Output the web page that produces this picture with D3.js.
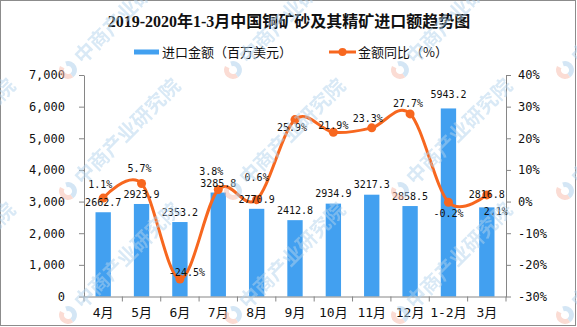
<!DOCTYPE html>
<html>
<head>
<meta charset="utf-8">
<script src="https://cdn.jsdelivr.net/npm/d3@7"></script>
<style>
  body { margin: 0; background: #fff; }
  svg { display: block; }
</style>
</head>
<body>
<svg id="chart" width="577" height="327"></svg>
<script>
// Monthly copper ore & concentrate imports, Apr 2019 – Mar 2020
const months = ["4月", "5月", "6月", "7月", "8月", "9月", "10月", "11月", "12月", "1-2月", "3月"];
const importValue = [2662.7, 2923.9, 2353.2, 3285.8, 2770.9, 2412.8, 2934.9, 3217.3, 2858.5, 5943.2, 2816.8];
const yoyGrowth = [1.1, 5.7, -24.5, 3.8, 0.6, 25.9, 21.9, 23.3, 27.7, -0.2, 2.1];
const valueTicks = [0, 1000, 2000, 3000, 4000, 5000, 6000, 7000];
const growthTicks = [-30, -20, -10, 0, 10, 20, 30, 40];

const titleText = "2019-2020年1-3月中国铜矿砂及其精矿进口额趋势图";
const barLegend = "进口金额（百万美元）";
const lineLegend = "金额同比（%）";
const watermarkText = "中商产业研究院";

// label nudges (dx, dy from the point) so the percentage labels clear the bars/line
const growthLabelNudge = [[-3, -14], [-2, -15.5], [7, -6.5], [-7, -18.5], [0, -22.5], [-3, 8],
                          [0, -7], [-4, -9], [-2, -10.5], [0, 11], [9, 16.5]];
const valueLabelLift = [9.5, 9.5, 9.5, 9.5, 9.5, 9.5, 10, 10.5, 10, 14, 13];

const BLUE = "#42a0f0";
const ORANGE = "#f7671f";
const AXIS = "#868686";
const MONO = "'DejaVu Sans Mono', 'Noto Sans CJK SC', monospace";
const CJK = "'Noto Sans CJK SC', sans-serif";

const svg = d3.select("#chart");
const plot = { left: 84, right: 506, top: 75, bottom: 296.5 };

const x = d3.scaleBand().domain(months).range([plot.left, plot.right]).padding(0);
const cx = m => x(m) + x.bandwidth() / 2;
const yL = d3.scaleLinear().domain([0, 7000]).range([plot.bottom, plot.top]);
const yR = d3.scaleLinear().domain([-30, 40]).range([plot.bottom, plot.top]);

// outer frame
svg.append("rect").attr("x", 0.5).attr("y", 0.5).attr("width", 575).attr("height", 325)
  .attr("fill", "#fff").attr("stroke", "#8c8c8c");

// title
svg.append("text").attr("x", 289).attr("y", 26.5).attr("text-anchor", "middle")
  .attr("font-family", "'Liberation Serif', 'Noto Sans CJK SC', serif")
  .attr("font-weight", "bold").attr("font-size", 16).attr("fill", "#111")
  .text(titleText);

// legend
const lg = svg.append("g").attr("font-family", CJK).attr("font-size", 13).attr("fill", "#111");
lg.append("rect").attr("x", 134).attr("y", 49.5).attr("width", 25).attr("height", 5).attr("fill", BLUE);
lg.append("text").attr("x", 162).attr("y", 56.5).text(barLegend);
lg.append("line").attr("x1", 329).attr("x2", 356).attr("y1", 52).attr("y2", 52)
  .attr("stroke", ORANGE).attr("stroke-width", 3);
lg.append("circle").attr("cx", 342.5).attr("cy", 52).attr("r", 4).attr("fill", ORANGE);
lg.append("text").attr("x", 358).attr("y", 56.5).text(lineLegend);

// bars
svg.append("g").selectAll("rect").data(importValue).join("rect")
  .attr("x", (d, i) => cx(months[i]) - x.bandwidth() * 0.2)
  .attr("width", x.bandwidth() * 0.4)
  .attr("y", d => yL(d))
  .attr("height", d => yL(0) - yL(d))
  .attr("fill", BLUE);

// axes
function styleAxis(g) {
  g.selectAll(".domain").attr("stroke", AXIS);
  g.selectAll(".tick line").attr("stroke", AXIS);
  g.selectAll("text").attr("font-family", MONO).attr("font-size", 12).attr("fill", "#111");
}

svg.append("g").attr("transform", `translate(${plot.left},0)`)
  .call(d3.axisLeft(yL).tickValues(valueTicks).tickFormat(d3.format(",")).tickSize(5).tickPadding(14).tickSizeOuter(0))
  .call(styleAxis);

svg.append("g").attr("transform", `translate(${plot.right},0)`)
  .call(d3.axisRight(yR).tickValues(growthTicks).tickFormat(d => d + "%").tickSize(5).tickPadding(7).tickSizeOuter(0))
  .call(styleAxis);

const xg = svg.append("g").attr("transform", `translate(0,${plot.bottom})`)
  .call(d3.axisBottom(x).tickSize(0).tickPadding(11).tickSizeOuter(0))
  .call(styleAxis);
xg.selectAll("text").attr("font-size", 13);
// category separators below the baseline
xg.selectAll(".sep").data(months.map(m => x(m)).concat([plot.right])).join("line")
  .attr("class", "sep").attr("x1", d => d).attr("x2", d => d).attr("y1", 0).attr("y2", 5)
  .attr("stroke", AXIS);

// growth line
const pts = yoyGrowth.map((v, i) => [cx(months[i]), yR(v)]);
svg.append("path").datum(pts)
  .attr("d", d3.line().curve(d3.curveCatmullRom.alpha(0)))
  .attr("fill", "none").attr("stroke", ORANGE).attr("stroke-width", 3);
svg.append("g").selectAll("circle").data(pts).join("circle")
  .attr("cx", d => d[0]).attr("cy", d => d[1]).attr("r", 4.5).attr("fill", ORANGE);

// value labels on bars
svg.append("g").attr("font-family", MONO).attr("font-size", 10).attr("fill", "#111")
  .selectAll("text").data(importValue).join("text")
  .attr("x", (d, i) => cx(months[i]))
  .attr("y", (d, i) => yL(d) - valueLabelLift[i])
  .attr("dy", "0.35em").attr("text-anchor", "middle")
  .text(d => d.toFixed(1));

// growth labels
svg.append("g").attr("font-family", MONO).attr("font-size", 10).attr("fill", "#111")
  .selectAll("text").data(yoyGrowth).join("text")
  .attr("x", (d, i) => pts[i][0] + growthLabelNudge[i][0])
  .attr("y", (d, i) => pts[i][1] + growthLabelNudge[i][1])
  .attr("dy", "0.35em").attr("text-anchor", "middle")
  .text(d => d.toFixed(1) + "%");

// faint publisher watermark
const wm = svg.append("g").attr("pointer-events", "none").attr("opacity", 0.5);
const wmCols = [-97, 68, 233, 400, 565];
const wmRows = [70, 191, 315];
wmRows.forEach(ry => wmCols.forEach(rx => {
  const u = wm.append("g").attr("transform", `translate(${rx},${ry}) rotate(-45)`);
  const arc = d3.arc().innerRadius(4).outerRadius(9);
  u.append("path").attr("d", arc({ startAngle: Math.PI * 1.05, endAngle: Math.PI * 1.9 })).attr("fill", "#f6b9a8");
  u.append("path").attr("d", arc({ startAngle: Math.PI * 0.15, endAngle: Math.PI * 1.05 })).attr("fill", "#a9cdea");
  u.append("text").attr("x", 14).attr("y", 7).attr("font-family", CJK).attr("font-weight", "bold")
    .attr("font-size", 20).attr("fill", "#b3d3ec").text(watermarkText);
}));
</script>
</body>
</html>
